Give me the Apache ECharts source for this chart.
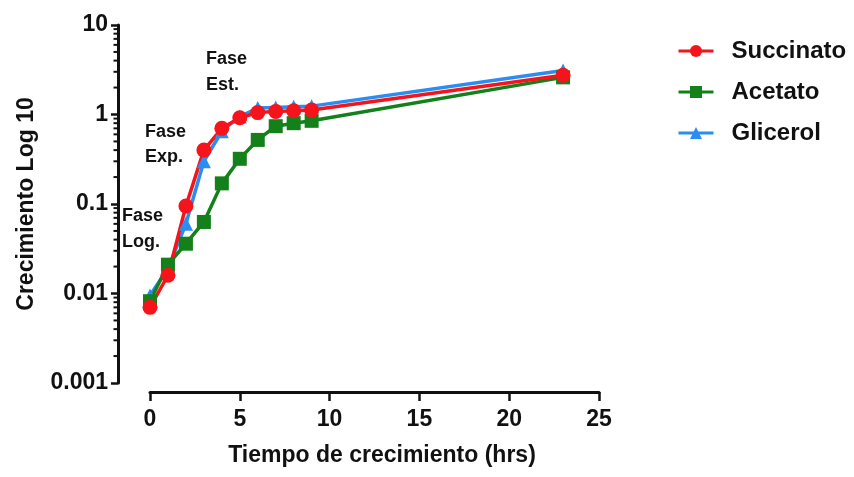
<!DOCTYPE html>
<html>
<head>
<meta charset="utf-8">
<title>Crecimiento</title>
<script src="https://cdn.jsdelivr.net/npm/echarts@6/dist/echarts.min.js"></script>
<style>
  html, body { margin: 0; padding: 0; background: #fff; }
  #chart { width: 854px; height: 477px; }
</style>
</head>
<body>
<div id="chart"></div>
<script>
// datos
const horas = [0, 1, 2, 3, 4, 5, 6, 7, 8, 9, 23];
const succinato = [0.007, 0.016, 0.095, 0.4, 0.7, 0.92, 1.05, 1.08, 1.1, 1.12, 2.75];
const acetato = [0.0082, 0.021, 0.036, 0.063, 0.17, 0.32, 0.52, 0.74, 0.8, 0.85, 2.6];
const glicerol = [0.0095, 0.019, 0.06, 0.3, 0.65, 0.95, 1.18, 1.2, 1.22, 1.24, 3.1];

// marcas menores del eje log (2..9 en cada decada)
const decadas = [0.001, 0.01, 0.1, 1];
const factores = [2, 3, 4, 5, 6, 7, 8, 9];

const FONT = 'Liberation Sans, Arial, sans-serif';
const Y_OFFSET = 32;

const chart = echarts.init(document.getElementById('chart'));

function pares(ys) {
  return horas.map((h, i) => [h, ys[i]]);
}

const minorTicks = [];
decadas.forEach(d => factores.forEach(f => minorTicks.push([0, +(d * f).toPrecision(3)])));

const option = {
  animation: false,
  textStyle: { fontFamily: FONT },
  grid: { left: 150, top: 25, width: 449, height: 358 },
  legend: {
    orient: 'vertical',
    left: 672,
    top: 34,
    itemWidth: 35,
    itemHeight: 15,
    itemGap: 17,
    data: ['Succinato', 'Acetato', 'Glicerol'],
    lineStyle: { width: 3 },
    textStyle: { fontSize: 24, fontWeight: 'bold', color: '#111', padding: [0, 0, 0, 13] }
  },
  xAxis: {
    type: 'value',
    min: 0,
    max: 25,
    interval: 5,
    offset: 9,
    name: 'Tiempo de crecimiento (hrs)',
    nameLocation: 'middle',
    nameGap: 52,
    nameTextStyle: { fontSize: 23, fontWeight: 'bold', color: '#111', padding: [0, 0, 0, 15] },
    axisLine: { onZero: false, lineStyle: { color: '#111', width: 3 } },
    axisTick: { length: 9, lineStyle: { color: '#111', width: 2.5 } },
    axisLabel: { fontSize: 23, fontWeight: 'bold', color: '#111', margin: 16 },
    splitLine: { show: false }
  },
  yAxis: {
    type: 'log',
    logBase: 10,
    min: 0.001,
    max: 10,
    offset: Y_OFFSET,
    name: 'Crecimiento Log 10',
    nameLocation: 'middle',
    nameGap: 80,
    nameTextStyle: { fontSize: 23, fontWeight: 'bold', color: '#111' },
    axisLine: { show: true, onZero: false, lineStyle: { color: '#111', width: 3 } },
    axisTick: { show: true, length: 7, lineStyle: { color: '#111', width: 2.5 } },
    axisLabel: { fontSize: 23, fontWeight: 'bold', color: '#111', margin: 10,
      formatter: v => String(+v.toPrecision(3)) },
    splitLine: { show: false }
  },
  graphic: [
    { type: 'text', left: 206, top: 46, style: { text: 'Fase\nEst.', font: 'bold 18px ' + FONT, lineHeight: 26, fill: '#111' } },
    { type: 'text', left: 145, top: 120, style: { text: 'Fase\nExp.', font: 'bold 18px ' + FONT, lineHeight: 25, fill: '#111' } },
    { type: 'text', left: 122, top: 203, style: { text: 'Fase\nLog.', font: 'bold 18px ' + FONT, lineHeight: 26, fill: '#111' } }
  ],
  series: [
    {
      // marcas menores dibujadas sobre el eje Y desplazado
      type: 'custom',
      silent: true,
      clip: false,
      data: minorTicks,
      renderItem: (params, api) => {
        const p = api.coord([api.value(0), api.value(1)]);
        const x = params.coordSys.x - Y_OFFSET;
        return {
          type: 'line',
          shape: { x1: x - 4.5, y1: p[1], x2: x, y2: p[1] },
          style: { stroke: '#111', lineWidth: 2 }
        };
      }
    },
    {
      name: 'Glicerol',
      type: 'line',
      data: pares(glicerol),
      symbol: 'triangle',
      symbolSize: 14,
      lineStyle: { width: 3.5, color: '#2b8cf2' },
      itemStyle: { color: '#2b8cf2' }
    },
    {
      name: 'Acetato',
      type: 'line',
      data: pares(acetato),
      symbol: 'rect',
      symbolSize: 14,
      lineStyle: { width: 3.5, color: '#13801a' },
      itemStyle: { color: '#13801a' }
    },
    {
      name: 'Succinato',
      type: 'line',
      data: pares(succinato),
      symbol: 'circle',
      symbolSize: 15,
      lineStyle: { width: 3.5, color: '#f5141c' },
      itemStyle: { color: '#f5141c' }
    }
  ]
};

chart.setOption(option);
</script>
</body>
</html>
